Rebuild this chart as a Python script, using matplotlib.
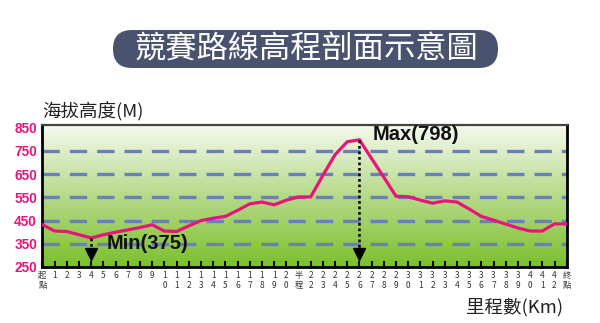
import numpy as np
import matplotlib
matplotlib.use('Agg')
import matplotlib.pyplot as plt
from matplotlib.colors import LinearSegmentedColormap
from matplotlib.patches import FancyBboxPatch

# --- Data ---
km_labels = ['起\n點', '1', '2', '3', '4', '5', '6', '7', '8', '9',
             '1\n0', '1\n1', '1\n2', '1\n3', '1\n4', '1\n5', '1\n6', '1\n7', '1\n8', '1\n9',
             '2\n0', '半\n程', '2\n2', '2\n3', '2\n4', '2\n5', '2\n6', '2\n7', '2\n8', '2\n9',
             '3\n0', '3\n1', '3\n2', '3\n3', '3\n4', '3\n5', '3\n6', '3\n7', '3\n8', '3\n9',
             '4\n0', '4\n1', '4\n2', '終\n點']
elevation = [432, 405, 403, 389, 375, 389, 400, 410, 420, 432,
             405, 403, 427, 450, 460, 468, 494, 522, 530, 518,
             538, 552, 552, 645, 734, 790, 798, 717, 637, 555,
             553, 538, 525, 535, 530, 500, 468, 452, 435, 418,
             405, 405, 436, 436]
y_ticks = [250, 350, 450, 550, 650, 750, 850]
grid_levels = [350, 450, 550, 650, 750]

TITLE = '競賽路線高程剖面示意圖'
CJK = ['Noto Sans CJK TC', 'DejaVu Sans']
NUM = ['Liberation Sans', 'DejaVu Sans']

PINK = '#e5157a'
NAVY = '#49536f'
DASH_BLUE = '#6b80b6'

fig = plt.figure(figsize=(6, 3.23), dpi=100)

# background layer in pixel units, for the title pill
bg = fig.add_axes([0, 0, 1, 1])
bg.set_xlim(0, 600)
bg.set_ylim(323, 0)
bg.axis('off')
pill = FancyBboxPatch((132, 49), 347, 0, boxstyle='round,pad=19,rounding_size=19',
                      facecolor=NAVY, edgecolor='none')
bg.add_patch(pill)
bg.text(306, 49, TITLE, family=CJK, fontsize=22.5, color='white',
        ha='center', va='center', fontweight='medium')

ax = fig.add_axes([0.0708, 0.1734, 0.8737, 0.4396])
x = np.arange(len(elevation))
y_lo, y_hi = 250, 862
ax.set_xlim(0, len(elevation) - 1)
ax.set_ylim(y_lo, y_hi)

# green gradient background
cmap = LinearSegmentedColormap.from_list('bg', ['#7cc02c', '#b6da88', '#f5f9ee'])
grad = np.linspace(0, 1, 256).reshape(-1, 1)
ax.imshow(grad, cmap=cmap, origin='lower', aspect='auto',
          extent=[0, len(elevation) - 1, y_lo, y_hi], zorder=0)

for lv in grid_levels:
    ax.plot([0, len(elevation) - 1], [lv, lv], color=DASH_BLUE, lw=2.4,
            dashes=(5.2, 3.0), zorder=1, solid_capstyle='butt')

ax.plot(x, elevation, color=PINK, lw=2.3, zorder=3, solid_joinstyle='miter')

# min / max markers
i_min = int(np.argmin(elevation))
i_max = int(np.argmax(elevation))
for i in (i_min, i_max):
    ax.plot([i, i], [elevation[i], 330], color='black', lw=1.8, dashes=(1.1, 1.1), zorder=4)
    ax.plot(i, 308, marker='v', color='black', markersize=8.5, zorder=4)
ax.text(i_min + 1.3, 350, f'Min({elevation[i_min]})', family=NUM, fontweight='bold',
        fontsize=14.5, va='center', ha='left', color='#111111', zorder=5)
ax.text(i_max + 1.1, 820, f'Max({elevation[i_max]})', family=NUM, fontweight='bold',
        fontsize=14.5, va='center', ha='left', color='#111111', zorder=5)

ax.set_yticks(y_ticks)
ax.set_yticklabels([str(v) for v in y_ticks], family=NUM, fontweight='bold',
                   fontsize=9.8, color=PINK)
ax.tick_params(axis='y', length=0, pad=4)
ax.set_xticks(x)
ax.set_xticklabels(km_labels, family=CJK, fontsize=6, color='#333333', linespacing=1.15)
ax.tick_params(axis='x', direction='in', length=4, width=1.5, color='black', pad=3)

for side in ['left', 'right', 'bottom']:
    ax.spines[side].set_linewidth(2)
    ax.spines[side].set_color('black')
ax.spines['top'].set_linewidth(1.6)
ax.spines['top'].set_color('#444444')

fig.text(42 / 600, 1 - 112 / 323, '海拔高度(M)', family=CJK, fontsize=13.3,
         ha='left', va='center', color='#222222')
fig.text(563 / 600, 1 - 307 / 323, '里程數(Km)', family=CJK, fontsize=13.3,
         ha='right', va='center', color='#222222')

fig.savefig('out.png', dpi=100)
